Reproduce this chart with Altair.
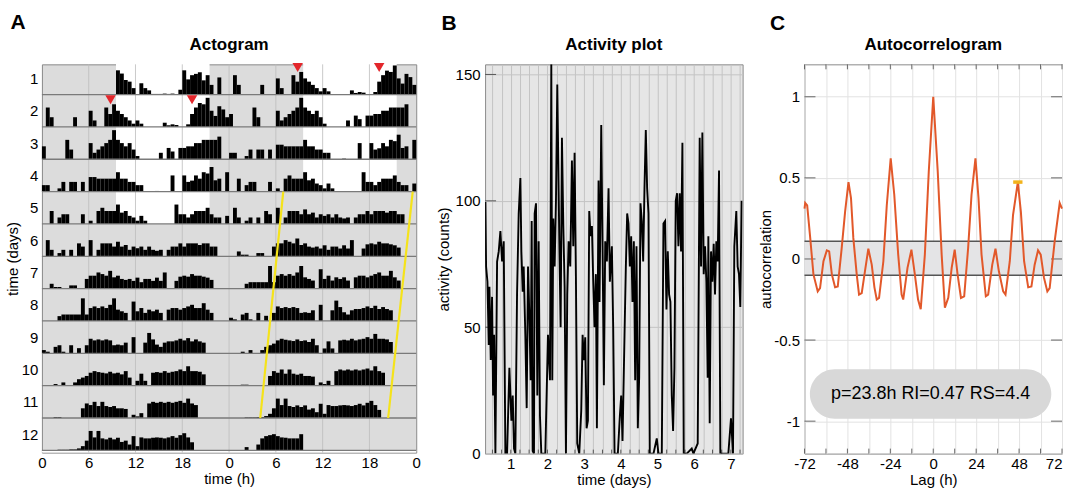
import altair as alt
import pandas as pd

FONT = "Liberation Sans"

# ---------------- Actogram data: activity per 30-min bin (tenths of a row height) ----------------
day01 = [0, 0, 0, 0, 0, 0, 0, 0, 0, 0,
         0, 0, 0, 0, 0, 0, 0, 0, 0, 7.5,
         6.5, 4.5, 4, 2, 0, 3.5, 2, 1.3, 0.2, 0.2,
         0.2, 0.3, 0.2, 0.3, 0, 1.5, 7.5, 4.7, 6, 6.4,
         6.9, 4.4, 6, 3, 0, 5.3, 0, 0]
day02 = [0, 6, 3, 0, 0, 0, 0, 0, 3, 0,
         0, 0, 5, 2, 0, 0, 6, 4, 7, 5,
         4, 3, 2, 1, 2, 1, 0, 0, 0, 0,
         0, 1.3, 0.5, 0.8, 0.6, 0, 0, 0.8, 4, 6,
         7.4, 7, 9, 5, 3.4, 6.4, 5.4, 3]
day03 = [4, 0, 0, 0, 0, 0, 6, 3, 0, 0,
         0, 0, 5, 2, 3, 4, 5, 6, 9, 6,
         5, 4, 5, 3, 1, 0, 0, 0, 0, 0,
         2, 0, 3.5, 2.4, 0, 3.5, 3.5, 4, 4, 5,
         5, 6, 6, 6, 6, 7, 0, 0]
day04 = [2, 2, 0, 0, 1, 3, 0, 3, 3, 0,
         3, 0, 4.5, 4.5, 4, 4, 4, 4, 4, 6,
         4, 4, 3, 3, 2, 2, 0, 0, 0, 0.2,
         0, 0, 0, 5, 0, 0, 5, 3, 3.4, 5,
         4, 6, 5.6, 7.6, 3.5, 4, 0, 6]
day05 = [0, 0, 4, 0, 2, 3, 3, 0, 0, 0,
         3, 0, 1, 0, 4, 5, 4, 4, 4, 6,
         3.5, 4, 2.5, 2, 1, 2.5, 1, 0, 0, 0,
         0, 0, 0, 0, 6, 3, 3, 2, 3, 4,
         4, 4, 5, 3, 2, 2, 0, 2.5]
day06 = [0, 5, 2, 0, 1, 2, 0, 2, 0, 4,
         3, 0, 5, 0, 2, 4, 4, 4, 3, 4.5,
         3, 3.5, 2, 3, 2.5, 3, 2, 3, 2, 1.7,
         2, 0, 2, 3, 3, 4, 3, 4, 4, 4,
         3.5, 4, 4, 3, 3, 0, 0, 0]
day07 = [0, 0, 1.5, 0.5, 0.5, 0, 0, 1, 1, 0,
         0, 3, 4, 4, 5, 4.5, 4, 5.5, 3.5, 4,
         3, 2.7, 3, 2.4, 3.4, 2, 3, 3, 2.4, 3.4,
         2.4, 5, 0, 0, 2.4, 3.7, 4, 3.7, 4.5, 4,
         4, 3.7, 3.4, 2.7, 0, 0, 0, 0]
day08 = [0, 0, 0, 0, 1.5, 2, 2, 2, 2, 2,
         7, 2, 4, 4.5, 4, 4.5, 4, 5, 7, 3.5,
         3, 2.5, 0, 6, 3, 4, 2.5, 3.5, 3, 3.5,
         2.5, 0, 3.5, 4, 4, 3.5, 4, 4.5, 5, 4,
         4, 5.5, 3.5, 2.5, 0, 0, 0, 0]
day09 = [1, 0.5, 0, 2, 2.5, 0.5, 0, 2.5, 0, 1.6,
         0, 2.5, 4.5, 4, 4.3, 4, 4.3, 4, 2.5, 2.7,
         2.5, 3.3, 0, 5, 0, 0, 3.3, 6.3, 4.3, 2.7,
         2, 3.3, 3.7, 3.7, 4, 4.5, 4, 4.7, 3.7, 4.3,
         3.7, 3.3, 0, 0, 0, 0, 0, 0]
day10 = [0, 0, 0, 0.5, 0, 1, 0, 0, 1, 2,
         2.5, 3, 4, 4.5, 4.2, 4, 3.8, 4.3, 3.8, 4,
         3.5, 4.5, 2.5, 0, 1.5, 3.7, 1.5, 0, 4, 4.2,
         4, 4.5, 4, 4.3, 4.5, 5, 4.5, 6, 4.5, 4.5,
         4.3, 3.5, 0, 0, 0, 0, 0, 0]
day11 = [0, 0, 0, 0.3, 0.3, 0, 0, 0, 0, 0,
         3, 4.5, 4, 5, 3.7, 5, 3.7, 3.4, 3.7, 3,
         3, 2.8, 0, 1, 0.5, 1.5, 0, 4.5, 5, 4.7,
         5, 4.7, 5, 4.7, 5, 5.3, 4.7, 6, 4.5, 4,
         0, 0, 0, 0, 0, 0, 0, 0]
day12 = [0, 0, 0, 0, 0.2, 0.2, 0.2, 0.3, 0.3, 0.6,
         1.3, 3, 6, 4, 6, 3.7, 3.4, 3.9, 3.4, 3.9,
         2.6, 3, 1.8, 4.4, 1.3, 4, 3.7, 3.7, 3.9, 4,
         3.9, 3.7, 4, 4.4, 3.9, 4.7, 5.3, 4, 2.5, 0,
         0, 0, 0, 0, 0, 0, 0, 0]
day13 = [0, 0, 0, 0, 1, 0, 0, 1.8, 3.7, 4.4,
         4.7, 5, 4.4, 4, 3.9, 3.7, 3.7, 3.7, 5]   # recording ends here

days = [day01, day02, day03, day04, day05, day06, day07, day08, day09,
        day10, day11, day12, day13]
bin_hours = 0.5
n_rows = 12
lights_on = 9.5
lights_off = 21.5
ld_days = 5                      # days 1..5 light/dark, then constant darkness
marker_day = 2
marker_hours = [8.8, 19.25]      # red onset/offset markers on day 2
yellow_top_row = 4
yellow_bottom_row = 11
yellow_line1 = [30.95, 28.0]     # hours at top / bottom of the fitted line
yellow_line2 = [47.55, 44.4]

# ---------------- Activity plot data ----------------
act_day = [0.309, 0.327, 0.364, 0.400, 0.418, 0.454, 0.490, 0.518, 0.545, 0.581,
           0.627, 0.672, 0.717, 0.763, 0.808, 0.853, 0.899, 0.962, 1.017, 1.053,
           1.089, 1.125, 1.171, 1.216, 1.262, 1.289, 1.325, 1.352, 1.398, 1.434,
           1.470, 1.506, 1.543, 1.570, 1.597, 1.633, 1.651, 1.688, 1.724, 1.760,
           1.796, 1.833, 1.942, 2.014, 2.069, 2.105, 2.132, 2.159, 2.196, 2.232,
           2.268, 2.323, 2.359, 2.395, 2.432, 2.468, 2.504, 2.540, 2.577, 2.622,
           2.667, 2.704, 2.740, 2.776, 2.812, 2.867, 2.921, 2.958, 2.994, 3.030,
           3.067, 3.103, 3.139, 3.175, 3.212, 3.248, 3.284, 3.320, 3.348, 3.393,
           3.420, 3.466, 3.502, 3.538, 3.575, 3.620, 3.665, 3.701, 3.756, 3.792,
           3.829, 3.919, 3.974, 4.010, 4.046, 4.101, 4.137, 4.173, 4.209, 4.246,
           4.282, 4.318, 4.355, 4.391, 4.427, 4.463, 4.500, 4.536, 4.572, 4.609,
           4.645, 4.681, 4.717, 4.754, 4.790, 4.890, 4.980, 5.026, 5.117, 5.162,
           5.207, 5.244, 5.280, 5.316, 5.352, 5.389, 5.425, 5.461, 5.497, 5.534,
           5.570, 5.606, 5.642, 5.679, 5.715, 5.797, 5.933, 5.978, 6.096, 6.150,
           6.187, 6.223, 6.259, 6.296, 6.332, 6.368, 6.386, 6.423, 6.459, 6.495,
           6.532, 6.568, 6.604, 6.640, 6.677, 6.713, 6.840, 6.931, 7.003, 7.058,
           7.094, 7.148, 7.185, 7.221, 7.257, 7.293]
act_counts = [99.5, 74, 68, 43, 66, 37, 62, 23, 47, 0,
              76, 80, 88, 76, 84, 0, 0, 34, 13, 23,
              2, 0, 63, 95, 109, 80, 64, 74, 46, 18,
              74, 55, 29, 92, 1, 0, 95, 99, 23, 84,
              15, 0, 0, 47, 29, 154, 29, 93, 74, 100,
              146, 84, 50, 125, 90, 66, 0, 63, 84, 74,
              116, 82, 119, 70, 4, 0, 17, 47, 37, 46,
              10, 13, 96, 86, 90, 68, 50, 71, 10, 108,
              60, 130, 82, 27, 84, 76, 105, 68, 82, 50,
              0, 0, 15, 23, 5, 47, 74, 95, 91, 74,
              86, 60, 84, 29, 82, 10, 30, 99, 92, 76,
              105, 128, 105, 95, 0, 0, 6, 0, 0, 91,
              92, 57, 80, 63, 60, 23, 9, 34, 100, 103,
              82, 103, 80, 123, 0, 0, 2, 0, 4, 125,
              74, 127, 71, 82, 68, 30, 86, 12, 80, 68,
              83, 63, 84, 76, 112, 0, 0, 0, 14, 0,
              82, 96, 74, 71, 58, 100]

# ---------------- Autocorrelogram data ----------------
lag_h = [-72, -71.6, -70.5, -68.8, -67, -64.6, -63.3, -61.4, -59.5, -58.2,
         -56.7, -54.9, -53.4, -51.2, -49.3, -47.4, -46, -44.7, -42.8, -41.5,
         -40, -38.2, -36.3, -34.4, -32.9, -31.6, -30.3, -27.9, -26, -23.8,
         -21.8, -19.6, -17.7, -16.8, -14.4, -12.2, -10.3, -8.5, -7, -4.7,
         -2.5, 0, 2.5, 4.7, 6.5, 8.4, 10.3, 12, 13.6, 15.5,
         17.3, 19.5, 21.4, 23.6, 25.3, 27, 29.4, 30.7, 33, 34.8,
         36.7, 39.1, 40.4, 42.8, 44.6, 47.3, 49, 50.8, 53.1, 54.9,
         56.7, 58.6, 60.1, 61.9, 63.8, 65.1, 67.9, 70.7, 72]
acf = [0.31, 0.345, 0.33, 0.13, -0.095, -0.2, -0.18, -0.014, 0.053, 0.047,
       -0.095, -0.175, -0.17, 0.067, 0.29, 0.474, 0.376, 0.13, -0.095, -0.22,
       -0.21, -0.076, 0.063, -0.035, -0.175, -0.25, -0.24, -0.014, 0.33, 0.62,
       0.396, 0.027, -0.22, -0.25, -0.055, 0.057, -0.095, -0.25, -0.31, 0.027,
       0.54, 1.0, 0.54, 0.027, -0.30, -0.24, -0.055, 0.057, -0.095, -0.24,
       -0.23, 0.067, 0.396, 0.62, 0.376, 0.027, -0.23, -0.22, -0.035, 0.063,
       -0.076, -0.2, -0.22, -0.014, 0.27, 0.474, 0.29, -0.014, -0.175, -0.17,
       -0.035, 0.053, 0.027, -0.115, -0.2, -0.18, 0.11, 0.345, 0.31]
sig_band = [-0.10, 0.11]
peak_lag = 47.3
peak_halfwidth = 2.6
peak_value = 0.474
stats_text = "p=23.8h RI=0.47 RS=4.4"
box_lag = [-69, 66]
box_val = [-0.985, -0.68]

LABEL_PAD_X = 3
TITLE_PAD_X = 1

# ================= Panel A: actogram =================
A_W, A_H = 375, 389
xsA = alt.Scale(domain=[0, 48], nice=False, zero=False)
ysA = alt.Scale(domain=[0.065, 12.07], reverse=True, nice=False, zero=False)

bars = []
for r in range(1, n_rows + 1):
    for half in (0, 1):
        d = r + half
        if d > len(days):
            continue
        for k, v in enumerate(days[d - 1]):
            if v > 0:
                x0 = half * 24 + k * bin_hours
                bars.append({"x": x0, "x2": x0 + bin_hours, "row": r, "v": v})
bars_df = pd.DataFrame(bars)

light = []
for r in range(1, n_rows + 1):
    for half in (0, 1):
        d = r + half
        if d <= ld_days:
            light.append({"x": half * 24 + lights_on, "x2": half * 24 + lights_off,
                          "y": r - 1, "y2": r})
light.append({"x": 0, "x2": 48, "y": n_rows, "y2": 12.07})
light_df = pd.DataFrame(light)

axA_x = alt.Axis(values=list(range(0, 49, 6)), labelExpr="'' + (datum.value % 24)",
                 title="time (h)", grid=False, ticks=False, domain=False, labelFlush=False,
                 labelPadding=LABEL_PAD_X, titlePadding=TITLE_PAD_X, labelOverlap=False)
axA_y = alt.Axis(values=[i + 0.5 for i in range(n_rows)], labelExpr="'' + (datum.value + 0.5)",
                 title="time (days)", grid=False, ticks=False, domain=False,
                 labelPadding=4, titlePadding=1, labelOverlap=False)

def XA(f):
    return alt.X(f, scale=xsA, axis=axA_x)

def YA(f):
    return alt.Y(f, scale=ysA, axis=axA_y)

lay_light = alt.Chart(light_df).mark_rect(color="white").encode(
    x=XA("x:Q"), x2="x2:Q", y=YA("y:Q"), y2="y2:Q")

vgrid_df = pd.DataFrame({"x": list(range(6, 48, 6))})
lay_vgrid = alt.Chart(vgrid_df).mark_rule(color="#bdbdbd", strokeWidth=1, opacity=0.8).encode(
    x=XA("x:Q"))

lay_bars = alt.Chart(bars_df).mark_rect(color="black").transform_calculate(
    top="datum.row - datum.v / 10").encode(
    x=XA("x:Q"), x2="x2:Q", y=YA("row:Q"), y2="top:Q")

rows_df = pd.DataFrame({"y": list(range(1, n_rows + 1))})
lay_rows = alt.Chart(rows_df).mark_rule(color="#7a7a7a", strokeWidth=1.3).encode(
    y=YA("y:Q"))

yel = []
for i, line in enumerate([yellow_line1, yellow_line2]):
    yel.append({"x": line[0], "y": yellow_top_row, "line": i})
    yel.append({"x": line[1], "y": yellow_bottom_row, "line": i})
lay_yellow = alt.Chart(pd.DataFrame(yel)).mark_line(color="#f5e31a", strokeWidth=2.2).encode(
    x=XA("x:Q"), y=YA("y:Q"), detail="line:N")

tri = []
for h in marker_hours:
    tri.append({"x": h, "row": marker_day})
    tri.append({"x": h + 24, "row": marker_day - 1})
lay_tri = alt.Chart(pd.DataFrame(tri)).mark_point(
    shape="triangle-down", filled=True, size=110, color="#e3262b", opacity=1).transform_calculate(
    yc="datum.row - 1 + 0.16").encode(x=XA("x:Q"), y=YA("yc:Q"))

def label_layers(letter, title, width, lx, ly):
    one = alt.Data(values=[{"a": 1}])
    l1 = alt.Chart(one).mark_text(text=letter, font=FONT, fontSize=21, fontWeight="bold",
                                  align="center", baseline="middle", color="black").encode(
        x=alt.value(lx), y=alt.value(ly))
    l2 = alt.Chart(one).mark_text(text=title, font=FONT, fontSize=17, fontWeight="bold",
                                  align="center", baseline="middle", color="black").encode(
        x=alt.value(width / 2), y=alt.value(-19))
    return [l1, l2]

chartA = alt.layer(lay_light, lay_vgrid, lay_bars, lay_rows, lay_yellow, lay_tri,
                   *label_layers("A", "Actogram", A_W, -24, -41)).properties(
    width=A_W, height=A_H, view=alt.ViewBackground(fill="#dcdcdc", stroke="#8a8a8a"))

# ================= Panel B: activity plot =================
B_W, B_H = 258, 390
B_dom_x = [0.3, 7.32]
B_dom_y = [0, 154]
xsB = alt.Scale(domain=B_dom_x, nice=False, zero=False)
ysB = alt.Scale(domain=B_dom_y, nice=False, zero=False)
b_xticks = [k * 0.25 for k in range(2, 30)]
b_yticks = [0, 50, 100, 150]
axB_x = alt.Axis(values=b_xticks,
                 labelExpr="datum.value % 1 == 0 ? '' + datum.value : ''",
                 title="time (days)", grid=True, gridColor="#c4c4c4", gridWidth=1,
                 ticks=False, domain=False, labelFlush=False,
                 labelPadding=LABEL_PAD_X, titlePadding=TITLE_PAD_X, labelOverlap=False)
axB_y = alt.Axis(values=b_yticks, title="activity (counts)", grid=True,
                 gridColor="#c4c4c4", ticks=False, domain=False, labelPadding=5, titlePadding=4)

def XB(f):
    return alt.X(f, scale=xsB, axis=axB_x)

def YB(f):
    return alt.Y(f, scale=ysB, axis=axB_y)

# inward tick marks (matlab style)
px_per_day = B_W / (B_dom_x[1] - B_dom_x[0])
px_per_count = B_H / (B_dom_y[1] - B_dom_y[0])
bt_y = pd.DataFrame({"x": [B_dom_x[0]] * 3, "x2": [B_dom_x[0] + 11 / px_per_day] * 3,
                     "y": b_yticks[1:]})
bt_x = pd.DataFrame({"x": b_xticks, "y": [B_dom_y[0]] * len(b_xticks),
                     "y2": [B_dom_y[0] + 4 / px_per_count] * len(b_xticks)})
lay_bty = alt.Chart(bt_y).mark_rule(color="#555555", strokeWidth=1).encode(
    x=XB("x:Q"), x2="x2:Q", y=YB("y:Q"))
lay_btx = alt.Chart(bt_x).mark_rule(color="#555555", strokeWidth=1).encode(
    x=XB("x:Q"), y=YB("y:Q"), y2="y2:Q")

b_df = pd.DataFrame({"day": act_day, "counts": act_counts})
lay_b = alt.Chart(b_df).mark_line(color="black", strokeWidth=1.9, clip=True).encode(
    x=XB("day:Q"), y=YB("counts:Q"))
chartB = alt.layer(lay_bty, lay_btx, lay_b, *label_layers("B", "Activity plot", B_W, -36, -40)).properties(
    width=B_W, height=B_H, view=alt.ViewBackground(fill="#e6e6e6", stroke="#8a8a8a"))

# ================= Panel C: autocorrelogram =================
C_W, C_H = 258, 390
C_dom_x = [-72, 72]
C_dom_y = [-1.2, 1.2]
xsC = alt.Scale(domain=C_dom_x, nice=False, zero=False)
ysC = alt.Scale(domain=C_dom_y, nice=False, zero=False)
c_xticks = list(range(-72, 73, 12))
c_yticks = [-1, -0.5, 0, 0.5, 1]
axC_x = alt.Axis(values=c_xticks,
                 labelExpr="datum.value % 24 == 0 ? toString(datum.value) : ''",
                 labelAlign={"condition": {"test": "datum.value >= 72", "value": "right"},
                             "value": "center"},
                 title="Lag (h)", grid=True, gridColor="#e2e2e2", ticks=False, domain=False,
                 labelFlush=False, labelPadding=LABEL_PAD_X, titlePadding=TITLE_PAD_X,
                 labelOverlap=False)
axC_y = alt.Axis(values=c_yticks, labelExpr="toString(datum.value)",
                 title="autocorrelation", grid=True, gridColor="#e2e2e2", ticks=False,
                 domain=False, labelPadding=5, titlePadding=0)

def XC(f):
    return alt.X(f, scale=xsC, axis=axC_x)

def YC(f):
    return alt.Y(f, scale=ysC, axis=axC_y)

c_px_x = C_W / (C_dom_x[1] - C_dom_x[0])
c_px_y = C_H / (C_dom_y[1] - C_dom_y[0])
ct_y = pd.DataFrame(
    [{"x": C_dom_x[0], "x2": C_dom_x[0] + 11 / c_px_x, "y": v} for v in c_yticks]
    + [{"x": C_dom_x[1] - 11 / c_px_x, "x2": C_dom_x[1], "y": v} for v in c_yticks])
ct_x = pd.DataFrame(
    [{"x": v, "y": C_dom_y[0], "y2": C_dom_y[0] + 5 / c_px_y} for v in c_xticks]
    + [{"x": v, "y": C_dom_y[1] - 5 / c_px_y, "y2": C_dom_y[1]} for v in c_xticks])
lay_cty = alt.Chart(ct_y).mark_rule(color="#666666", strokeWidth=1).encode(
    x=XC("x:Q"), x2="x2:Q", y=YC("y:Q"))
lay_ctx = alt.Chart(ct_x).mark_rule(color="#666666", strokeWidth=1).encode(
    x=XC("x:Q"), y=YC("y:Q"), y2="y2:Q")

band_df = pd.DataFrame({"x": [C_dom_x[0]], "x2": [C_dom_x[1]], "y": [sig_band[0]], "y2": [sig_band[1]]})
lay_band = alt.Chart(band_df).mark_rect(color="#e4e4e6").encode(
    x=XC("x:Q"), x2="x2:Q", y=YC("y:Q"), y2="y2:Q")
lay_band_lines = alt.Chart(pd.DataFrame({"y": sig_band})).mark_rule(
    color="#555555", strokeWidth=1.5).encode(y=YC("y:Q"))
c_df = pd.DataFrame({"lag": lag_h, "acf": acf})
lay_curve = alt.Chart(c_df).mark_line(color="#e2582a", strokeWidth=2).encode(
    x=XC("lag:Q"), y=YC("acf:Q"))
pk_df = pd.DataFrame({"x": [peak_lag - peak_halfwidth], "x2": [peak_lag + peak_halfwidth],
                      "y": [peak_value]})
lay_peak = alt.Chart(pk_df).mark_rule(color="#f2b31c", strokeWidth=3.5).encode(
    x=XC("x:Q"), x2="x2:Q", y=YC("y:Q"))
box_df = pd.DataFrame({"x": [box_lag[0]], "x2": [box_lag[1]], "y": [box_val[0]], "y2": [box_val[1]],
                       "t": [stats_text]})
lay_box = alt.Chart(box_df).mark_rect(color="#d8d8d8", cornerRadius=25).encode(
    x=XC("x:Q"), x2="x2:Q", y=YC("y:Q"), y2="y2:Q")
lay_box_text = alt.Chart(box_df).mark_text(font=FONT, fontSize=18, color="black",
                                           align="center", baseline="middle").transform_calculate(
    xm="(datum.x + datum.x2) / 2", ym="(datum.y + datum.y2) / 2").encode(
    x=XC("xm:Q"), y=YC("ym:Q"), text="t:N")

chartC = alt.layer(lay_band, lay_band_lines, lay_cty, lay_ctx, lay_curve, lay_peak, lay_box,
                   lay_box_text, *label_layers("C", "Autocorrelogram", C_W, -27, -40)).properties(
    width=C_W, height=C_H, view=alt.ViewBackground(fill="white", stroke="#8a8a8a"))

chart = alt.hconcat(chartA, chartB, chartC, spacing=14).properties(
    padding={"left": 4, "top": 11, "right": 2, "bottom": 0},
    background="white",
).configure_axis(
    labelFont=FONT, titleFont=FONT, labelColor="black", titleColor="black",
    labelFontSize=15, titleFontSize=15, titleFontWeight="normal",
).configure_text(font=FONT)

chart.save("out.html", embed_options={"renderer": "svg", "actions": False})
